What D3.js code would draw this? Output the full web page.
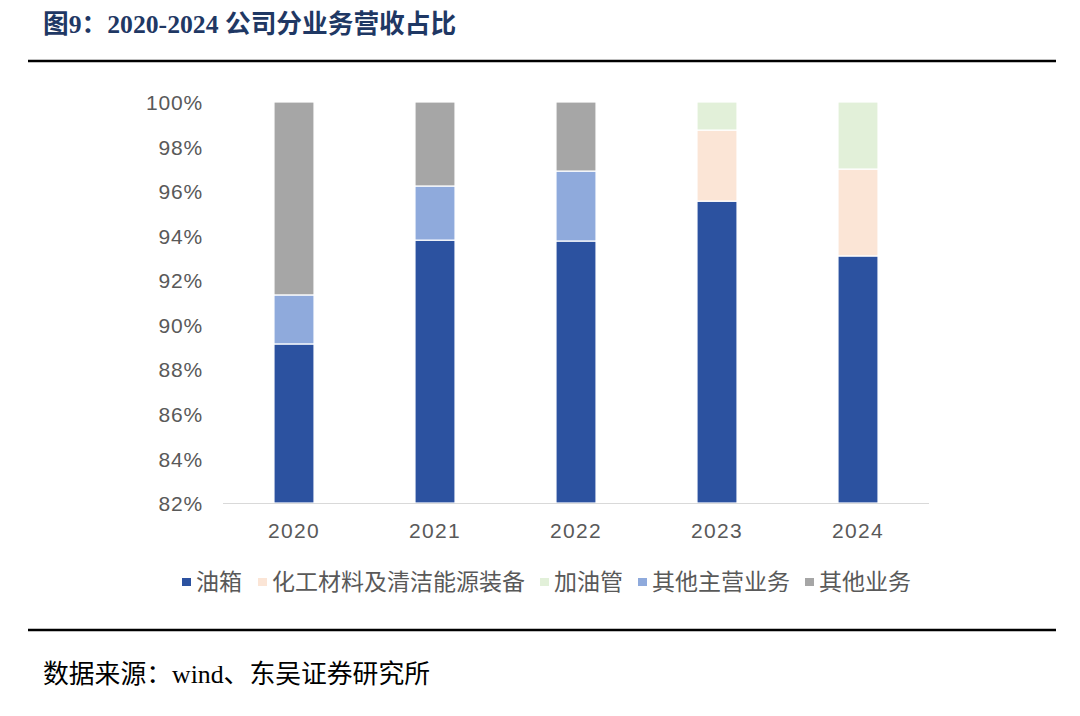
<!DOCTYPE html>
<html><head><meta charset="utf-8">
<script src="https://cdn.jsdelivr.net/npm/d3@7"></script>
<style>body{margin:0;background:#fff;} svg{display:block;}</style>
</head><body>
<svg id="c" width="1080" height="716"></svg>
<script>
const years = ["2020","2021","2022","2023","2024"];
const seriesNames = ["油箱","化工材料及清洁能源装备","加油管","其他主营业务","其他业务"];
const youxiang = [89.14, 93.80, 93.76, 95.55, 93.09];
const huagong = [0, 0, 0, 3.19, 3.90];
const jiayouguan = [0, 0, 0, 1.26, 3.01];
const qitaZhuying = [2.20, 2.43, 3.14, 0, 0];
const qitaYewu = [8.66, 3.77, 3.10, 0, 0];
const colors = ["#2c52a0","#fbe5d6","#e2f0d9","#8faadc","#a6a6a6"];
const yTicks = [82,84,86,88,90,92,94,96,98,100];

const svg = d3.select("#c");
const cjk = "'Noto Sans CJK SC', sans-serif";
const serif = "'Liberation Serif', 'Times New Roman', serif";

// title
svg.append("text").attr("x",43).attr("y",33)
  .attr("font-size",25.7).attr("font-weight","bold").attr("fill","#1f3864")
  .html(`<tspan font-family="${cjk}">图</tspan><tspan font-family="${serif}">9</tspan><tspan font-family="${cjk}">：</tspan><tspan font-family="${serif}">2020-2024 </tspan><tspan font-family="${cjk}">公司分业务营收占比</tspan>`);
svg.append("line").attr("x1",28).attr("x2",1056).attr("y1",61).attr("y2",61).attr("stroke","#000").attr("stroke-width",2.5);
svg.append("line").attr("x1",28).attr("x2",1056).attr("y1",630).attr("y2",630).attr("stroke","#000").attr("stroke-width",2.5);

const x = d3.scaleBand().domain(years).range([223.5,928.5]).paddingInner(0.716).paddingOuter(0.358);
const y = d3.scaleLinear().domain([82,100]).range([503,102]);

const stackData = years.map((yr,i)=>{
  const vals=[youxiang[i],huagong[i],jiayouguan[i],qitaZhuying[i],qitaYewu[i]];
  const o={year:yr}; seriesNames.forEach((s,j)=>o[s]=vals[j]); return o;});
const stack = d3.stack().keys(seriesNames)(stackData);

const g = svg.append("g");
stack.forEach((layer,si)=>{
  g.selectAll(null).data(layer.filter(d=>d[1]-d[0]>0)).enter().append("rect")
    .attr("x",d=>x(d.data.year))
    .attr("width",x.bandwidth())
    .attr("y",d=>y(Math.min(100,d[1])))
    .attr("height",d=>y(Math.max(82,d[0]))-y(Math.min(100,d[1])))
    .attr("fill",colors[si])
    .attr("stroke","#fff").attr("stroke-width",1.2);
});

// axes
const yAxis = d3.axisLeft(y).tickValues(yTicks).tickFormat(d=>d+"%").tickSize(0).tickPadding(0);
const ya = svg.append("g").attr("transform","translate(203,0)").call(yAxis);
ya.select(".domain").remove();
ya.selectAll("text").attr("font-family","'Liberation Sans', Arial, sans-serif").attr("font-size",21).attr("letter-spacing","0.8px").attr("fill","#595959").attr("dy","0.36em");

svg.append("line").attr("x1",223).attr("x2",929).attr("y1",503.5).attr("y2",503.5).attr("stroke","#d9d9d9").attr("stroke-width",1);

const xAxis = d3.axisBottom(x).tickSize(0).tickPadding(0);
const xa = svg.append("g").attr("transform","translate(0,503)").call(xAxis);
xa.select(".domain").remove();
xa.selectAll("text").attr("font-family","'Liberation Sans', Arial, sans-serif").attr("font-size",21).attr("letter-spacing","1.3px").attr("fill","#595959").attr("dy","0").attr("y",35);

// legend
const legendX = [182, 258, 540, 638, 805];
const lg = svg.append("g");
seriesNames.forEach((s,i)=>{
  lg.append("rect").attr("x",legendX[i]).attr("y",578).attr("width",9).attr("height",8).attr("fill",colors[i]);
  lg.append("text").attr("x",legendX[i]+14).attr("y",590).attr("font-family",cjk).attr("font-size",23).attr("fill","#595959").text(s);
});

// source
svg.append("text").attr("x",43).attr("y",683).attr("font-size",25.8).attr("fill","#000")
  .html(`<tspan font-family="${cjk}">数据来源：</tspan><tspan font-family="${serif}">wind</tspan><tspan font-family="${cjk}">、东吴证券研究所</tspan>`);
</script>
</body></html>
